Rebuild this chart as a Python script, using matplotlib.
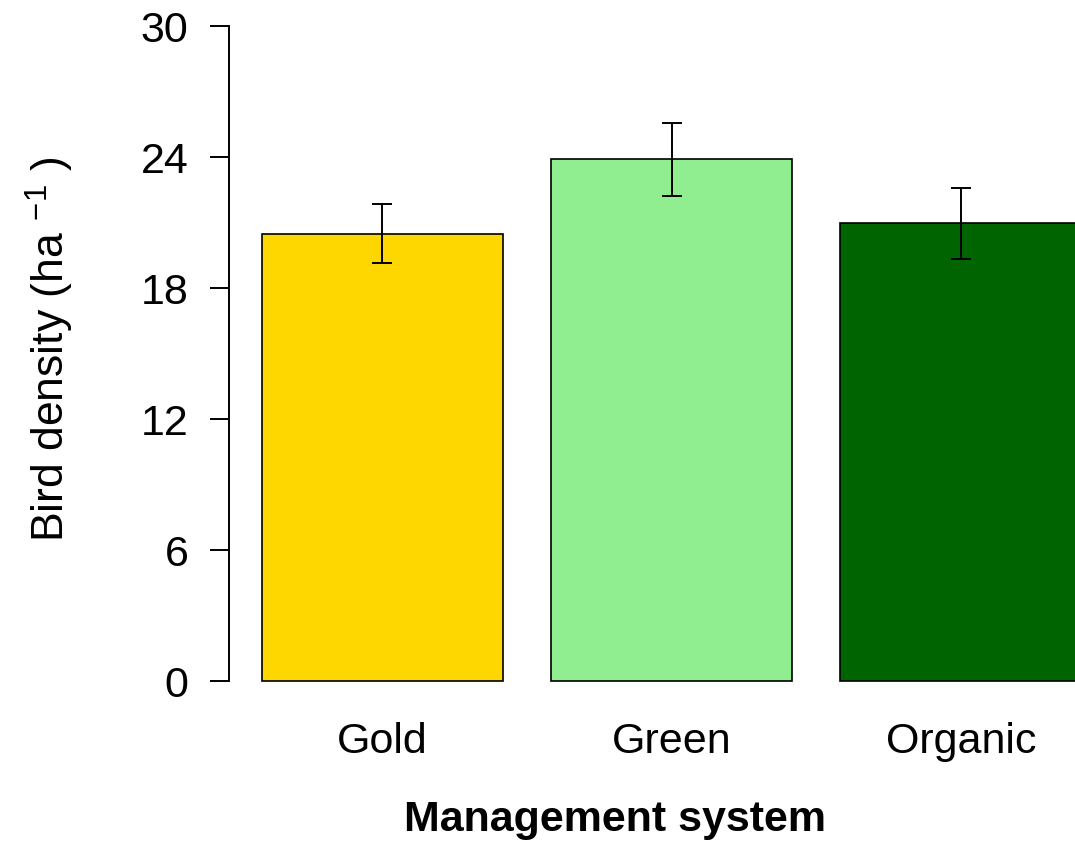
import matplotlib
matplotlib.use("Agg")
import matplotlib.pyplot as plt
from matplotlib.transforms import blended_transform_factory

# Mean bird density per management system with standard errors
systems = ["Gold", "Green", "Organic"]
density = [20.5, 23.9, 21.0]
err_up = [1.36, 1.66, 1.57]
err_down = [1.37, 1.66, 1.66]
bar_colors = ["#FFD700", "#90EE90", "#006400"]
y_ticks = [0, 6, 12, 18, 24, 30]

plt.rcParams["font.family"] = ["Liberation Sans", "DejaVu Sans"]
plt.rcParams["mathtext.fontset"] = "custom"
plt.rcParams["mathtext.rm"] = "Liberation Sans"
plt.rcParams["mathtext.it"] = "Liberation Sans:italic"
plt.rcParams["mathtext.bf"] = "Liberation Sans:bold"

W, H = 1075, 841
fig = plt.figure(figsize=(W / 100, H / 100), dpi=100)
fig.patch.set_facecolor("white")

ax_left_px, ax_bottom_px = 229.2, 707.2
ax = fig.add_axes([ax_left_px / W, (H - ax_bottom_px) / H,
                   (W - ax_left_px) / W, ax_bottom_px / H])

# barplot layout: unit-width bars separated by 0.2
centers = [0.7, 1.9, 3.1]
ax.bar(centers, density, width=1.0, color=bar_colors,
       edgecolor="black", linewidth=1.2, zorder=2)
ax.errorbar(centers, density, yerr=[err_down, err_up], fmt="none",
            ecolor="black", elinewidth=1.4, capsize=7.2, capthick=1.4,
            zorder=3)

ax.set_xlim(0.064, 0.064 + (W - ax_left_px) / 241.0)
ax.set_ylim(-1.2, 31.2)

for side in ["top", "right", "bottom"]:
    ax.spines[side].set_visible(False)
ax.spines["left"].set_bounds(0, 30)
ax.spines["left"].set_linewidth(1.4)

ax.set_yticks(y_ticks)
ax.set_yticklabels([str(t) for t in y_ticks], fontsize=31)
ax.tick_params(axis="y", length=13.7, width=1.4, pad=15.6, direction="out")
ax.set_xticks([])

# category names below each bar
trans = blended_transform_factory(ax.transData, fig.transFigure)
for c, name in zip(centers, systems):
    ax.text(c, (H - 753.3) / H, name, transform=trans, ha="center",
            va="baseline", fontsize=31)

fig.text(614.5 / W, (H - 831) / H, "Management system", ha="center",
         va="baseline", fontsize=31, fontweight="bold")

fig.text(65 / W, (H - 349) / H, r"Bird density (ha $^{-1}$ )",
         rotation=90, rotation_mode="anchor", ha="center", va="baseline",
         fontsize=32)

fig.savefig("out.png", dpi=100, facecolor="white")
